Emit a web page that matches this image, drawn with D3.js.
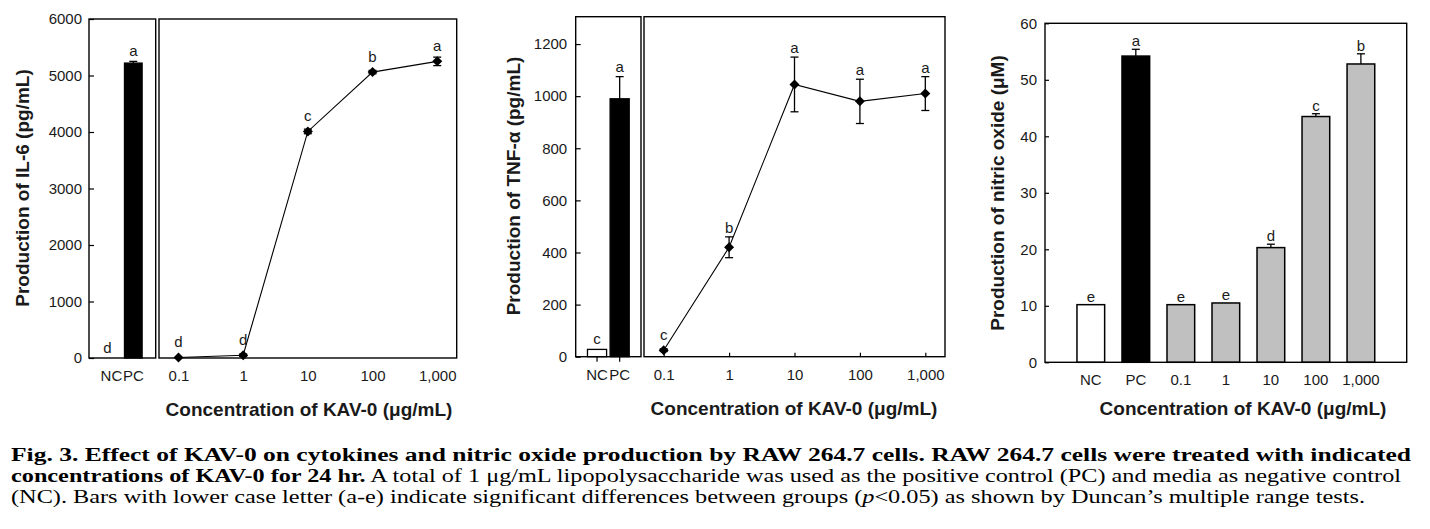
<!DOCTYPE html>
<html><head><meta charset="utf-8">
<script src="https://cdn.jsdelivr.net/npm/d3@7"></script>
<style>body{margin:0;background:#fff;} svg{display:block;}</style>
</head><body><svg id="c" width="1430" height="529"></svg>
<script>
// ---------------- DATA ----------------
const controls = ["NC", "PC"];
const concentrations = [0.1, 1, 10, 100, 1000];
const concLabels = ["0.1", "1", "10", "100", "1,000"];

const il6ControlValues = [0, 5220];
const il6ControlErr = [0, 30];
const il6ControlLetters = ["d", "a"];
const il6Values = [10, 50, 4010, 5060, 5250];
const il6Err = [0, 20, 40, 30, 75];
const il6Letters = ["d", "d", "c", "b", "a"];
const il6Ticks = [0, 1000, 2000, 3000, 4000, 5000, 6000];

const tnfControlValues = [28, 990];
const tnfControlErr = [0, 85];
const tnfControlLetters = ["c", "a"];
const tnfValues = [25, 420, 1045, 980, 1010];
const tnfErr = [5, 40, 105, 85, 65];
const tnfLetters = ["c", "b", "a", "a", "a"];
const tnfTicks = [0, 200, 400, 600, 800, 1000, 1200];

const noCategories = ["NC", "PC", "0.1", "1", "10", "100", "1,000"];
const noValues = [10.2, 54.2, 10.2, 10.5, 20.3, 43.5, 52.8];
const noErr = [0, 1.2, 0, 0, 0.6, 0.5, 1.8];
const noLetters = ["e", "a", "e", "e", "d", "c", "b"];
const noFills = ["#ffffff", "#000000", "#c0c0c0", "#c0c0c0", "#c0c0c0", "#c0c0c0", "#c0c0c0"];
const noTicks = [0, 10, 20, 30, 40, 50, 60];

const xTitle = "Concentration of KAV-0 (\u03bcg/mL)";
const il6Title = "Production of IL-6 (pg/mL)";
const tnfTitle = "Production of TNF-\u03b1 (pg/mL)";
const noTitle = "Production of nitric oxide (\u03bcM)";

const captionLine1 = "Fig. 3. Effect of KAV-0 on cytokines and nitric oxide production by RAW 264.7 cells. RAW 264.7 cells were treated with indicated";
const captionLine2Bold = "concentrations of KAV-0 for 24 hr.";
const captionLine2 = " A total of 1 \u03bcg/mL lipopolysaccharide was used as the positive control (PC) and media as negative control";
const captionLine3a = "(NC). Bars with lower case letter (a-e) indicate significant differences between groups (";
const captionLine3p = "p";
const captionLine3b = "<0.05) as shown by Duncan\u2019s multiple range tests.";

// ---------------- DRAW ----------------
const SANS = "'Liberation Sans', Arial, Helvetica, sans-serif";
const TXT = "#1a1a1a";
const svg = d3.select("#c");
svg.append("rect").attr("width", 1430).attr("height", 529).attr("fill", "#fff");

function styleAxis(sel) {
  sel.select(".domain").remove();
  sel.selectAll("text").attr("font-family", SANS).attr("font-size", 15).attr("fill", TXT);
  sel.selectAll("line").attr("stroke", "#000").attr("stroke-width", 1.2);
}

function errBar(g, x, y0, y1, cap) {
  g.append("line").attr("x1", x).attr("x2", x).attr("y1", y0).attr("y2", y1).attr("stroke", "#000").attr("stroke-width", 1.3);
  g.append("line").attr("x1", x - cap / 2).attr("x2", x + cap / 2).attr("y1", y1).attr("y2", y1).attr("stroke", "#000").attr("stroke-width", 1.3);
}

function letter(g, x, yb, t) {
  g.append("text").attr("x", x).attr("y", yb).attr("text-anchor", "middle")
    .attr("font-family", SANS).attr("font-size", 15).attr("fill", TXT).text(t);
}

function linePanel(o) {
  const g = svg.append("g");
  const y = d3.scaleLinear().domain([0, o.yMax]).range([o.bottom, o.top]);
  const xb = d3.scaleBand().domain(controls).range(o.leftRange).paddingInner(o.pi).paddingOuter(o.po);
  const xl = d3.scaleLog().domain([0.05, 2000]).range(o.rightRange);

  // y axis
  const ya = g.append("g").attr("transform", `translate(${o.leftRange[0]},0)`)
    .call(d3.axisLeft(y).tickValues(o.yTicks).tickFormat(d3.format("d")).tickSizeInner(-5).tickSizeOuter(0).tickPadding(o.yPad));
  styleAxis(ya);

  // control bars
  controls.forEach((c, i) => {
    const v = o.cVals[i];
    if (v > 0) {
      g.append("rect").attr("x", xb(c)).attr("width", xb.bandwidth())
        .attr("y", y(v)).attr("height", y(0) - y(v))
        .attr("fill", i === 0 ? "#fff" : "#000").attr("stroke", "#000").attr("stroke-width", 1.3);
    }
    if (o.cErr[i] > 0) errBar(g, xb(c) + xb.bandwidth() / 2, y(v), y(v + o.cErr[i]), 8);
    letter(g, xb(c) + xb.bandwidth() / 2 - (i === 0 ? o.ncShift : 0), y(v + o.cErr[i]) - 5, o.cLetters[i]);
  });

  // control x axis
  const xa1 = g.append("g").attr("transform", `translate(0,${o.bottom})`)
    .call(d3.axisBottom(xb).tickSizeInner(o.ctrlTick).tickSizeOuter(0).tickPadding(o.xPad - o.ctrlTick));
  styleAxis(xa1);

  // concentration axis
  const xa2 = g.append("g").attr("transform", `translate(0,${o.bottom})`)
    .call(d3.axisBottom(xl).tickValues(concentrations).tickFormat((d, i) => concLabels[i])
      .tickSizeInner(o.concTick).tickSizeOuter(0).tickPadding(o.xPad));
  styleAxis(xa2);

  // boxes
  g.append("rect").attr("x", o.leftRange[0]).attr("y", o.top).attr("width", o.leftRange[1] - o.leftRange[0]).attr("height", o.bottom - o.top)
    .attr("fill", "none").attr("stroke", "#000").attr("stroke-width", 1.4);
  g.append("rect").attr("x", o.rightRange[0]).attr("y", o.top).attr("width", o.rightRange[1] - o.rightRange[0]).attr("height", o.bottom - o.top)
    .attr("fill", "none").attr("stroke", "#000").attr("stroke-width", 1.4);

  // line
  const pts = concentrations.map((c, i) => ({ c, v: o.vals[i], e: o.err[i], l: o.letters[i] }));
  g.append("path").datum(pts).attr("fill", "none").attr("stroke", "#000").attr("stroke-width", 1.1)
    .attr("d", d3.line().x(d => xl(d.c)).y(d => y(d.v)));
  pts.forEach(d => {
    if (d.e > 0) {
      errBar(g, xl(d.c), y(d.v), y(d.v + d.e), 8);
      errBar(g, xl(d.c), y(d.v), y(Math.max(0, d.v - d.e)), 8);
    }
  });
  const sym = d3.symbol(d3.symbolSquare, 50);
  g.selectAll("path.pt").data(pts).join("path").attr("class", "pt")
    .attr("transform", d => `translate(${xl(d.c)},${y(d.v)}) rotate(45)`)
    .attr("d", sym).attr("fill", "#000");
  pts.forEach(d => letter(g, xl(d.c), Math.min(y(d.v + d.e) - 4, y(d.v) - 10), d.l));

  // titles
  g.append("text").attr("transform", `translate(${o.yTitleX},${o.yTitleY}) rotate(-90)`).attr("text-anchor", "middle").attr("dy", "0.36em")
    .attr("font-family", SANS).attr("font-weight", "bold").attr("font-size", 19).attr("fill", TXT).text(o.yTitle);
  g.append("text").attr("x", o.xTitleX).attr("y", o.xTitleY).attr("text-anchor", "middle").attr("dy", "0.36em")
    .attr("font-family", SANS).attr("font-weight", "bold").attr("font-size", 19).attr("fill", TXT).text(xTitle);
}

linePanel({
  yMax: 6000, yTicks: il6Ticks, top: 19, bottom: 358,
  leftRange: [89, 155.7], rightRange: [159, 456.7], pi: 0.195, po: 0.62, ncShift: 4,
  cVals: il6ControlValues, cErr: il6ControlErr, cLetters: il6ControlLetters,
  vals: il6Values, err: il6Err, letters: il6Letters,
  yPad: 7, xPad: 12, ctrlTick: 0, concTick: 0,
  yTitle: il6Title, yTitleX: 22, yTitleY: 188, xTitleX: 309, xTitleY: 409
});

linePanel({
  yMax: 1305, yTicks: tnfTicks, top: 16.7, bottom: 356.7,
  leftRange: [575.7, 641], rightRange: [644, 945], pi: 0.156, po: 0.52, ncShift: 0,
  cVals: tnfControlValues, cErr: tnfControlErr, cLetters: tnfControlLetters,
  vals: tnfValues, err: tnfErr, letters: tnfLetters,
  yPad: 8.5, xPad: 13, ctrlTick: 5, concTick: -4,
  yTitle: tnfTitle, yTitleX: 513, yTitleY: 186, xTitleX: 794, xTitleY: 408
});

// nitric oxide bar panel
(function () {
  const g = svg.append("g");
  const top = 23.3, bottom = 362.3, left = 1045, right = 1406.7;
  const y = d3.scaleLinear().domain([0, 60]).range([bottom, top]);
  const x = d3.scaleBand().domain(noCategories).range([left, right]).paddingInner(0.385).paddingOuter(0.71);
  const ya = g.append("g").attr("transform", `translate(${left},0)`)
    .call(d3.axisLeft(y).tickValues(noTicks).tickSizeInner(-4).tickSizeOuter(0).tickPadding(8));
  styleAxis(ya);
  const xa = g.append("g").attr("transform", `translate(0,${bottom})`)
    .call(d3.axisBottom(x).tickSizeInner(0).tickSizeOuter(0).tickPadding(12.5));
  styleAxis(xa);
  noCategories.forEach((c, i) => {
    const v = noValues[i];
    g.append("rect").attr("x", x(c)).attr("width", x.bandwidth()).attr("y", y(v)).attr("height", y(0) - y(v))
      .attr("fill", noFills[i]).attr("stroke", "#000").attr("stroke-width", 1.5);
    if (noErr[i] > 0) errBar(g, x(c) + x.bandwidth() / 2, y(v), y(v + noErr[i]), 8);
    letter(g, x(c) + x.bandwidth() / 2, y(v + noErr[i]) - 3, noLetters[i]);
  });
  g.append("rect").attr("x", left).attr("y", top).attr("width", right - left).attr("height", bottom - top)
    .attr("fill", "none").attr("stroke", "#000").attr("stroke-width", 1.4);
  g.append("text").attr("transform", `translate(997,193) rotate(-90)`).attr("text-anchor", "middle").attr("dy", "0.36em")
    .attr("font-family", SANS).attr("font-weight", "bold").attr("font-size", 19).attr("fill", TXT).text(noTitle);
  g.append("text").attr("x", 1243).attr("y", 408).attr("text-anchor", "middle").attr("dy", "0.36em")
    .attr("font-family", SANS).attr("font-weight", "bold").attr("font-size", 19).attr("fill", TXT).text(xTitle);
})();

// caption
const cap = svg.append("g").attr("font-family", "'Liberation Serif', 'Times New Roman', serif").attr("font-size", 18).attr("fill", "#000");
cap.append("text").attr("x", 11).attr("y", 461).attr("font-weight", "bold")
  .attr("textLength", 1400).attr("lengthAdjust", "spacingAndGlyphs").text(captionLine1);
const l2 = cap.append("text").attr("x", 11).attr("y", 482).attr("textLength", 1390).attr("lengthAdjust", "spacingAndGlyphs");
l2.append("tspan").attr("font-weight", "bold").text(captionLine2Bold);
l2.append("tspan").text(captionLine2);
const l3 = cap.append("text").attr("x", 11).attr("y", 503).attr("textLength", 1354).attr("lengthAdjust", "spacingAndGlyphs");
l3.append("tspan").text(captionLine3a);
l3.append("tspan").attr("font-style", "italic").text(captionLine3p);
l3.append("tspan").text(captionLine3b);
</script></body></html>
